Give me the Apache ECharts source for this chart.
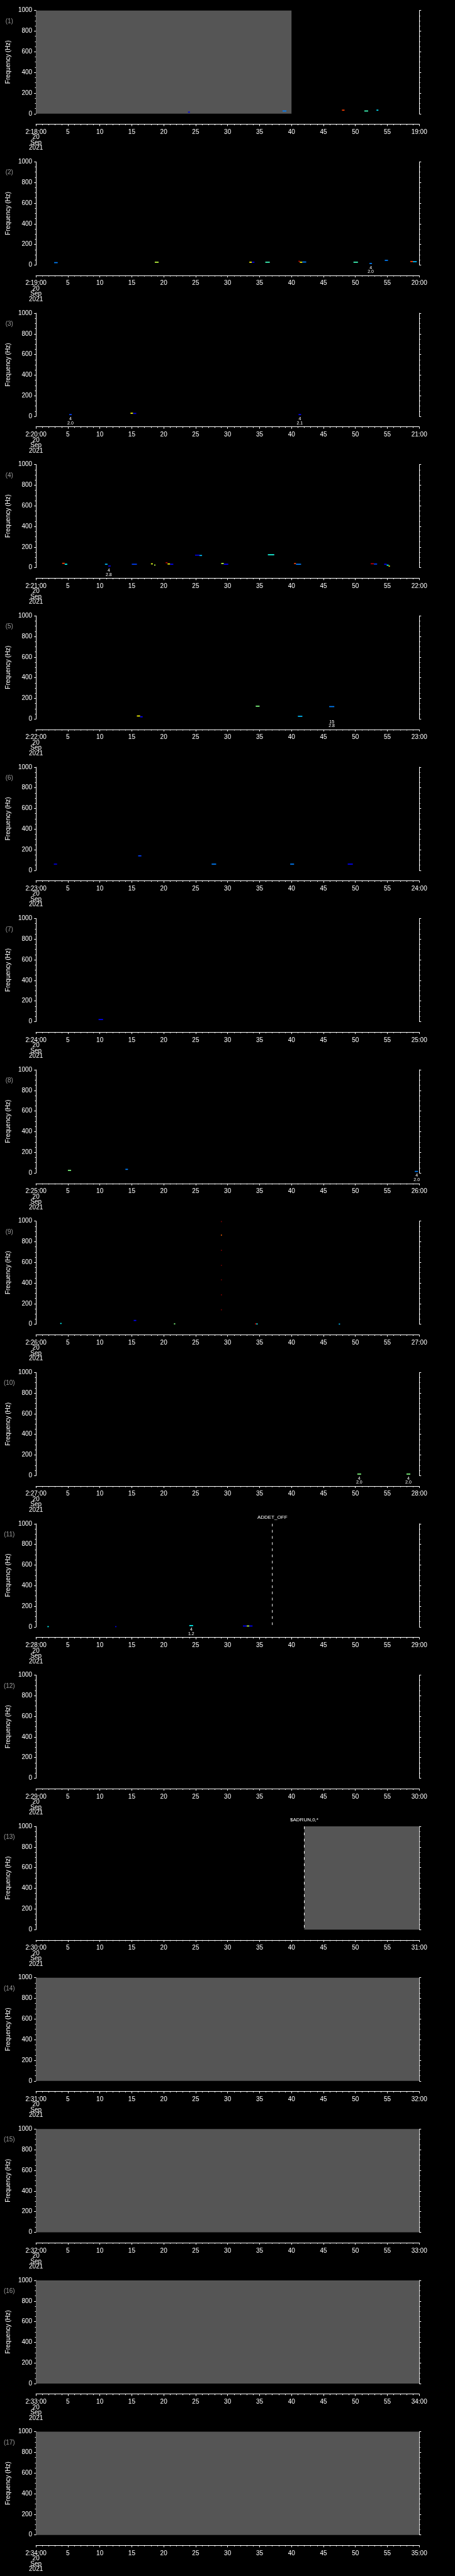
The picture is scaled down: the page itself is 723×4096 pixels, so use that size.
<!DOCTYPE html>
<html>
<head>
<meta charset="utf-8">
<script src="https://cdn.jsdelivr.net/npm/echarts@6.0.0/dist/echarts.min.js"></script>
<style>
  html, body { margin: 0; padding: 0; background: #000; }
  #chart { width: 723px; height: 4096px; }
</style>
</head>
<body>
<div id="chart"></div>
<script>
// one panel per minute, x in seconds after the panel start
const panelStarts = ['2:18:00', '2:19:00', '2:20:00', '2:21:00', '2:22:00', '2:23:00', '2:24:00', '2:25:00', '2:26:00',
    '2:27:00', '2:28:00', '2:29:00', '2:30:00', '2:31:00', '2:32:00', '2:33:00', '2:34:00']
const panelEnds = ['19:00', '20:00', '21:00', '22:00', '23:00', '24:00', '25:00', '26:00', '27:00',
    '28:00', '29:00', '30:00', '31:00', '32:00', '33:00', '34:00', '35:00']
const dateLines = ['20', 'Sep', '2021']
const timeRange = [0, 60]
const freqRange = [0, 1000]

// no-data stretches: [panel, from s, to s]
const gaps = [
    [1, 0, 40], [13, 42, 60], [14, 0, 60], [15, 0, 60], [16, 0, 60], [17, 0, 60],
]

// spectrogram patches: [panel, from s, to s, Hz, power 0..1]
const patches = [
    [1, 23.8, 24.1, 15, 0.15], [1, 38.6, 39.2, 26, 0.3], [1, 47.9, 48.3, 34, 0.75], [1, 51.4, 52.0, 26, 0.45], [1, 53.3, 53.6, 34, 0.38],
    [2, 2.85, 3.4, 23, 0.3], [2, 18.6, 19.2, 27, 0.55], [2, 33.4, 33.8, 27, 0.6], [2, 33.8, 34.2, 27, 0.15], [2, 35.9, 36.6, 27, 0.45],
    [2, 41.1, 41.3, 36, 0.85], [2, 41.3, 41.7, 27, 0.6], [2, 41.7, 42.3, 29, 0.3], [2, 49.7, 50.4, 27, 0.45], [2, 52.2, 52.6, 15, 0.3],
    [2, 54.6, 55.1, 45, 0.3], [2, 58.6, 59.0, 34, 0.75], [2, 59.0, 59.6, 32, 0.35],
    [3, 5.2, 5.6, 17, 0.25], [3, 14.8, 15.2, 30, 0.6], [3, 15.2, 15.7, 28, 0.15], [3, 41.1, 41.5, 17, 0.2],
    [4, 4.1, 4.5, 42, 0.75], [4, 4.5, 4.9, 33, 0.4], [4, 10.8, 11.2, 33, 0.35], [4, 11.3, 11.7, 16, 0.15], [4, 15.0, 15.8, 33, 0.25],
    [4, 18.0, 18.3, 37, 0.58], [4, 18.5, 18.7, 25, 0.55], [4, 20.3, 20.6, 48, 0.9], [4, 20.6, 21.0, 36, 0.6], [4, 21.0, 21.5, 33, 0.2],
    [4, 24.9, 25.6, 121, 0.15], [4, 25.6, 26.0, 118, 0.35], [4, 29.0, 29.4, 40, 0.55], [4, 29.4, 30.1, 33, 0.2], [4, 36.3, 37.3, 125, 0.42],
    [4, 40.4, 40.7, 40, 0.75], [4, 40.7, 41.5, 33, 0.3], [4, 52.4, 52.9, 38, 0.9], [4, 52.9, 53.4, 35, 0.25],
    [4, 54.5, 54.9, 33, 0.2], [4, 54.9, 55.2, 24, 0.4], [4, 55.2, 55.4, 15, 0.6],
    [5, 15.8, 16.3, 29, 0.6], [5, 16.3, 16.7, 21, 0.2], [5, 34.4, 35.0, 124, 0.5], [5, 41.0, 41.7, 26, 0.35], [5, 45.9, 46.7, 120, 0.3],
    [6, 2.8, 3.3, 60, 0.15], [6, 16.0, 16.5, 140, 0.25], [6, 27.5, 28.2, 60, 0.3], [6, 39.8, 40.4, 60, 0.3], [6, 48.8, 49.6, 60, 0.2],
    [7, 9.8, 10.5, 20, 0.2],
    [8, 5.0, 5.5, 25, 0.5], [8, 14.0, 14.4, 35, 0.3], [8, 59.3, 59.8, 15, 0.3],
    [9, 3.8, 4.0, 8, 0.4], [9, 15.3, 15.7, 37, 0.2], [9, 21.6, 21.8, 4, 0.5], [9, 34.3, 34.5, 4, 0.85], [9, 34.5, 34.7, 3, 0.4],
    [9, 47.4, 47.6, 2, 0.35], [9, 28.95, 29.1, 996, 1], [9, 28.95, 29.1, 864, 0.72], [9, 28.95, 29.1, 717, 1],
    [9, 28.95, 29.1, 571, 1], [9, 28.95, 29.1, 431, 1], [9, 28.95, 29.1, 285, 1], [9, 28.95, 29.1, 141, 1],
    [10, 50.3, 50.9, 15, 0.5], [10, 58.0, 58.6, 15, 0.5],
    [11, 1.8, 2.0, 3, 0.4], [11, 12.4, 12.6, 3, 0.15], [11, 24.0, 24.6, 13, 0.4], [11, 32.4, 33.0, 9, 0.2], [11, 33.0, 33.4, 9, 0.55], [11, 33.4, 33.9, 9, 0.2],
]

// event markers: [panel, s, name]
const events = [[11, 37.0, 'ADDET_OFF'], [13, 42.0, '$ADRUN,0,*']]

// small annotations under the plot: [panel, s, upper, lower]
const notes = [
    [2, 52.4, '4', '2.0'], [3, 5.4, '4', '2.0'], [3, 41.3, '4', '2.1'], [4, 11.4, '4', '2.8'], [5, 46.3, '15', '2.8'],
    [8, 59.6, '4', '2.0'], [10, 50.6, '4', '2.0'], [10, 58.3, '4', '2.0'], [11, 24.3, '4', '1.2'],
]

const S = 0.705
const FONT = '"Liberation Sans", Arial, sans-serif'
const jet = ['#00008f', '#0000ff', '#00ffff', '#ffff00', '#ff0000', '#800000']

const myChart = echarts.init(document.getElementById('chart'))
const grids = [], xAxes = [], yAxes = [], series = [], graphics = []
const patchSeries = []

const tickStyle = { color: '#fff', width: 1 }

for (let i = 0; i < panelStarts.length; i++) {
    const p = i + 1
    const top = (23.7 + i * 341.3) * S
    grids.push({ left: 80.5 * S, width: 864.5 * S, top, height: 232.7 * S })

    xAxes.push({
        gridIndex: i,
        type: 'value',
        min: timeRange[0],
        max: timeRange[1],
        interval: 5,
        position: 'bottom',
        offset: 23.7 * S,
        axisLine: { onZero: false, lineStyle: tickStyle },
        axisTick: { length: 3, lineStyle: tickStyle },
        minorTick: { show: true, splitNumber: 5, length: 1.6, lineStyle: tickStyle },
        splitLine: { show: false },
        axisLabel: {
            color: '#fff',
            fontSize: 10,
            fontFamily: FONT,
            lineHeight: 8.5,
            margin: 8.4,
            showMinLabel: true,
            showMaxLabel: true,
            formatter: (v) => {
                if (v === timeRange[0]) return [panelStarts[i], ...dateLines].join('\n')
                if (v === timeRange[1]) return panelEnds[i]
                return String(v)
            },
        },
    })

    const yBase = {
        gridIndex: i,
        type: 'value',
        min: freqRange[0],
        max: freqRange[1],
        interval: 200,
        axisLine: { show: true, onZero: false, lineStyle: tickStyle },
        axisTick: { show: true, length: 3, lineStyle: tickStyle },
        minorTick: { show: true, splitNumber: 4, length: 1.6, lineStyle: tickStyle },
        splitLine: { show: false },
    }
    yAxes.push({
        ...yBase,
        position: 'left',
        name: 'Frequency (Hz)',
        nameLocation: 'middle',
        nameGap: 35,
        nameTextStyle: { color: '#fff', fontSize: 10, fontFamily: FONT },
        axisLabel: { color: '#fff', fontSize: 10, fontFamily: FONT, margin: 6, formatter: (v) => String(v) },
    })
    yAxes.push({ ...yBase, position: 'right', axisLabel: { show: false } })

    graphics.push({
        type: 'text',
        x: 21 * S,
        y: top + 17.4,
        style: { text: '(' + p + ')', fill: '#9a9a9a', font: '10px ' + FONT, align: 'center', verticalAlign: 'middle' },
    })

    const axisRef = { xAxisIndex: i, yAxisIndex: 2 * i }

    const g = gaps.filter(r => r[0] === p).map(r => r.slice(1))
    if (g.length) {
        series.push({
            type: 'custom', ...axisRef, z: 1, silent: true,
            data: g,
            renderItem: (params, api) => {
                const a = api.coord([api.value(0), freqRange[1]])
                const b = api.coord([api.value(1), freqRange[0]])
                return { type: 'rect', shape: { x: a[0], y: a[1], width: b[0] - a[0], height: b[1] - a[1] }, style: { fill: '#555555' } }
            },
        })
    }

    const pt = patches.filter(r => r[0] === p).map(r => r.slice(1))
    if (pt.length) {
        patchSeries.push(series.length)
        series.push({
            type: 'custom', ...axisRef, z: 3, silent: true,
            data: pt,
            encode: { x: [0, 1], y: 2 },
            renderItem: (params, api) => {
                const a = api.coord([api.value(0), api.value(2)])
                const b = api.coord([api.value(1), api.value(2)])
                const h = 1.7
                return {
                    type: 'rect',
                    shape: { x: a[0], y: a[1] - h / 2, width: Math.max(b[0] - a[0], 1.5), height: h },
                    style: { fill: api.visual('color') },
                }
            },
        })
    }

    const ev = events.filter(r => r[0] === p)
    if (ev.length) {
        series.push({
            type: 'custom', ...axisRef, z: 4, silent: true,
            data: ev.map(r => [r[1]]),
            renderItem: (params, api) => {
                const t = api.value(0)
                const a = api.coord([t, freqRange[1]])
                const b = api.coord([t, freqRange[0]])
                return {
                    type: 'group',
                    children: [
                        { type: 'line', shape: { x1: a[0], y1: a[1], x2: b[0], y2: b[1] - 2 }, style: { stroke: '#fff', lineWidth: 1, lineDash: [4.2, 5.6] } },
                        {
                            type: 'text', x: a[0], y: a[1] - 6,
                            style: { text: ev[params.dataIndex][2], fill: '#fff', font: '8px "Liberation Sans Narrow", ' + FONT, align: 'center', verticalAlign: 'bottom' },
                        },
                    ],
                }
            },
        })
    }

    const nt = notes.filter(r => r[0] === p)
    if (nt.length) {
        series.push({
            type: 'custom', ...axisRef, z: 4, silent: true,
            data: nt.map(r => [r[1]]),
            renderItem: (params, api) => {
                const b = api.coord([api.value(0), freqRange[0]])
                const n = nt[params.dataIndex]
                return {
                    type: 'text', x: b[0], y: b[1] + 1.1,
                    style: { text: n[2] + '\n' + n[3], fill: '#fff', font: '7px ' + FONT, lineHeight: 6.6, align: 'center', verticalAlign: 'top' },
                }
            },
        })
    }
}

const option = {
    backgroundColor: '#000',
    animation: false,
    grid: grids,
    xAxis: xAxes,
    yAxis: yAxes,
    visualMap: {
        type: 'continuous',
        show: false,
        min: 0,
        max: 1,
        dimension: 3,
        seriesIndex: patchSeries,
        inRange: { color: jet },
    },
    graphic: graphics,
    series,
}
option && myChart.setOption(option)
</script>
</body>
</html>
